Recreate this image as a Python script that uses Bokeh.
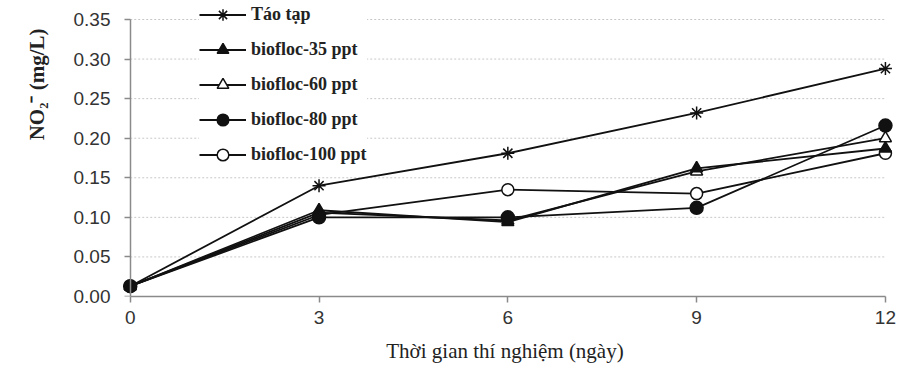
from bokeh.plotting import figure
from bokeh.models import Range1d, FixedTicker, PrintfTickFormatter, Legend, LegendItem, Title, LinearAxis
from bokeh.embed import file_html
from bokeh.resources import INLINE

days = [0, 3, 6, 9, 12]
tao_tap = [0.013, 0.140, 0.181, 0.232, 0.288]
bf35 = [0.013, 0.109, 0.094, 0.162, 0.187]
bf60 = [0.013, 0.106, 0.096, 0.158, 0.200]
bf80 = [0.013, 0.100, 0.100, 0.112, 0.216]
bf100 = [0.013, 0.103, 0.135, 0.130, 0.181]
y_ticks = [0.00, 0.05, 0.10, 0.15, 0.20, 0.25, 0.30, 0.35]
x_label = "Thời gian thí nghiệm (ngày)"
y_label = "NO\u2082\u207b (mg/L)"

p = figure(width=901, height=374, output_backend="svg", toolbar_location=None,
           x_range=Range1d(-0.25, 12.16), y_range=Range1d(0, 0.374),
           min_border_left=114, min_border_right=6, min_border_top=0, min_border_bottom=78)
p.outline_line_color = None
p.background_fill_color = "white"
p.xgrid.visible = False
p.ygrid.visible = False

# dotted grid lines spanning the data extent
for yv in y_ticks[1:]:
    p.line([days[0], days[-1]], [yv, yv], line_color="#c8c8c8", line_width=1, line_dash="2 2")

black = "#111111"
series = [
    ("Táo tạp", tao_tap, "asterisk", black, 13),
    ("biofloc-35 ppt", bf35, "triangle", black, 12),
    ("biofloc-60 ppt", bf60, "triangle", "white", 12),
    ("biofloc-80 ppt", bf80, "circle", black, 13),
    ("biofloc-100 ppt", bf100, "circle", "white", 12),
]
draw_order = [2, 4, 1, 3, 0]
rend = {}
for i in draw_order:
    name, vals, mk, fill, sz = series[i]
    ln = p.line(days, vals, line_color=black, line_width=1.8)
    sc = p.scatter(days, vals, marker=mk, size=sz, fill_color=fill, line_color=black, line_width=1.5)
    rend[i] = [ln, sc]
items = [LegendItem(label=series[i][0], renderers=rend[i]) for i in range(len(series))]

legend = Legend(items=items, location=(85, 127), padding=8, spacing=6, margin=0,
                label_height=29, glyph_height=29, glyph_width=47, label_standoff=5,
                label_text_font="Liberation Serif", label_text_font_style="bold",
                label_text_font_size="18px", label_text_color="#222222",
                background_fill_color="white", background_fill_alpha=1.0,
                border_line_color=None)
p.add_layout(legend)

# axes
p.xaxis.ticker = FixedTicker(ticks=days)
p.xaxis.bounds = (days[0], days[-1])
p.yaxis.ticker = FixedTicker(ticks=y_ticks)
p.yaxis.formatter = PrintfTickFormatter(format="%.2f")
for ax in (p.xaxis, p.yaxis):
    ax.axis_line_color = "#8a8a8a"
    ax.axis_line_width = 1.5
    ax.major_tick_line_color = "#8a8a8a"
    ax.major_tick_line_width = 1.5
    ax.major_tick_out = 6
    ax.major_tick_in = 0
    ax.minor_tick_line_color = None
    ax.major_label_text_font = "Liberation Sans"
    ax.major_label_text_font_size = "19px"
    ax.major_label_text_color = "#333333"
# left axis: labels only, at frame edge
p.yaxis.axis_line_color = None
p.yaxis.major_tick_line_color = None
p.yaxis.major_tick_out = 0
p.yaxis.major_label_standoff = 4
p.yaxis.axis_label_standoff = 0
p.xaxis.major_label_standoff = 8

# y axis line and ticks at x = 0
yline = LinearAxis(fixed_location=0, ticker=FixedTicker(ticks=y_ticks), bounds=(y_ticks[0], y_ticks[-1]),
                   axis_line_color="#8a8a8a", axis_line_width=1.5,
                   major_tick_line_color="#8a8a8a", major_tick_line_width=1.5,
                   major_tick_out=6, major_tick_in=0, minor_tick_line_color=None,
                   major_label_standoff=0, axis_label_standoff=0,
                   major_label_text_color=None, major_label_text_font_size="1px")
p.add_layout(yline, "left")

p.xaxis.axis_label = x_label
p.xaxis.axis_label_text_font = "Liberation Serif"
p.xaxis.axis_label_text_font_style = "normal"
p.xaxis.axis_label_text_font_size = "21px"
p.xaxis.axis_label_text_color = "#222222"
p.xaxis.axis_label_standoff = 12

yt = Title(text=y_label, align="right", offset=28, standoff=44, text_font="Liberation Serif",
           text_font_style="bold", text_font_size="21px", text_color="#222222")
p.add_layout(yt, "left")

open("out.html", "w").write(file_html(p, INLINE))
